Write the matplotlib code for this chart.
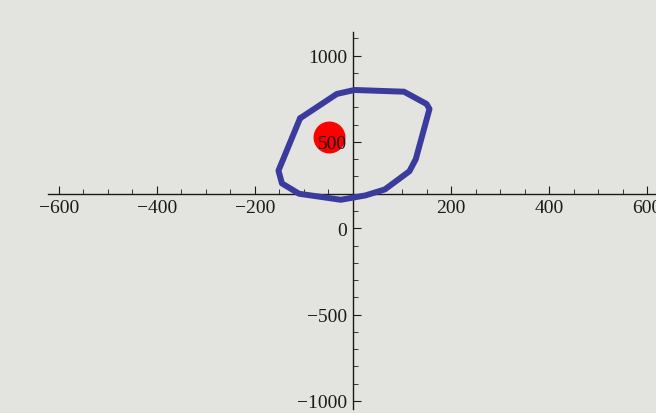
import numpy as np
import matplotlib
matplotlib.use('Agg')
import matplotlib.pyplot as plt
from matplotlib.ticker import FixedLocator

# closed loop, traced around the origin
loop_x = [-108, -33, 3, 104, 150, 156, 128, 115, 65, 25, -25, -110, -145, -152, -108]
loop_y = [637, 778, 801, 791, 720, 691, 400, 330, 225, 190, 165, 200, 260, 334, 637]

# single highlighted point
point_x = [-48]
point_y = [526]

x_ticks = [-600, -400, -200, 200, 400, 600]
y_ticks = [-1000, -500, 0, 500, 1000]
x_axis_height = 200

bg = '#e3e4df'
ink = '#1a1a1a'
plt.rcParams['font.family'] = ['Liberation Serif', 'DejaVu Serif']

fig = plt.figure(figsize=(6.56, 4.14), dpi=100, facecolor=bg)
ax = fig.add_axes([0, 0, 1, 1], facecolor=bg)

ax.plot(loop_x, loop_y, color='#3b3b9e', lw=4.3, solid_joinstyle='round',
        solid_capstyle='round', zorder=3)
ax.plot(point_x, point_y, 'o', color='#ff0000', ms=22, zorder=1)

ax.set_xlim(-720, 618)
ax.set_ylim(-1070, 1328)

# axes crossing: vertical at x=0, horizontal line raised
ax.spines['left'].set_position(('data', 0))
ax.spines['bottom'].set_position(('data', x_axis_height))
ax.spines['right'].set_visible(False)
ax.spines['top'].set_visible(False)
ax.spines['left'].set_bounds(-1047, 1137)
ax.spines['bottom'].set_bounds(-623, 618)
for s in ['left', 'bottom']:
    ax.spines[s].set_linewidth(1.0)
    ax.spines[s].set_color(ink)
    ax.spines[s].set_zorder(2)

ax.set_xticks(x_ticks)
ax.set_yticks(y_ticks)
ax.xaxis.set_minor_locator(FixedLocator(np.arange(-600, 601, 50)))
ax.yaxis.set_minor_locator(FixedLocator(np.arange(-1000, 1101, 100)))

for axis in ['x', 'y']:
    ax.tick_params(axis=axis, which='major', direction='in', length=6, width=0.8,
                   labelsize=14, pad=4, colors=ink)
    ax.tick_params(axis=axis, which='minor', direction='in', length=3.5, width=0.6,
                   colors=ink)

ax.set_yticklabels([f'\u2212{abs(v)}' if v < 0 else str(v) for v in y_ticks])
ax.set_xticklabels([f'\u2212{abs(v)}' if v < 0 else str(v) for v in x_ticks])

fig.savefig('out.png', dpi=100, facecolor=bg)
